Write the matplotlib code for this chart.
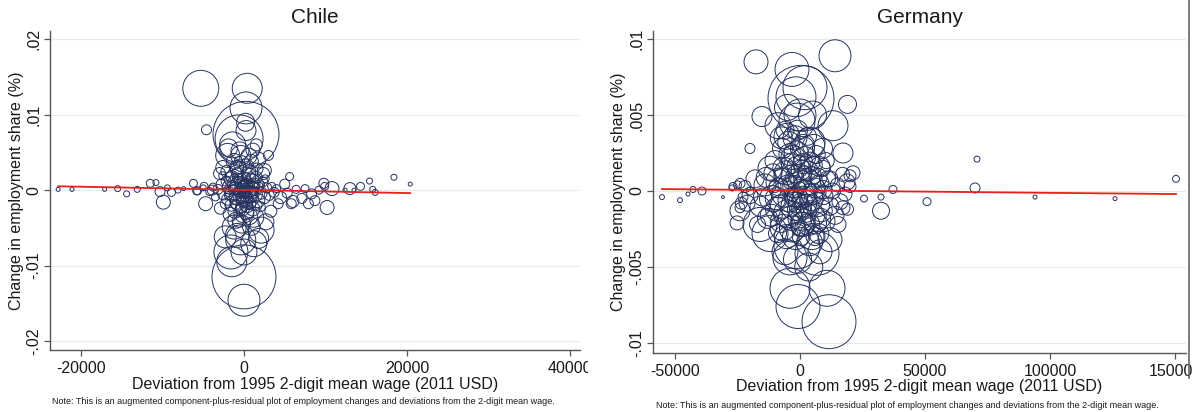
import matplotlib
matplotlib.use("Agg")
import matplotlib.pyplot as plt
import numpy as np
from matplotlib.transforms import Bbox
from matplotlib.lines import Line2D

plt.rcParams['font.family'] = ['Liberation Sans', 'DejaVu Sans']

# ---------------- DATA ----------------
# Chile: deviation from mean wage (USD), change in employment share, relative employment weight
chile_x = [
    # large / upper column
    -5300, 400, 250, 250, -600, -4600, -1400, 250, -2000, -400, 1700, 2500, -2600, -700, 600,
    -1600, 1100, 3000, 1500, -3000,
    # lower column
    0, 1200, -1200, 2100, -400, 1200, -1600, 0, 0, 0, -800, 1800, -1500,
    # core
    -2800, -2500, -2200, -2000, -1800, -1600, -1500, -1300, -1200, -1100, -1000, -900, -800, -700,
    -600, -500, -400, -300, -200, -100, 0, 100, 200, 300, 400, 500, 600, 700, 800, 900, 1000, 1100,
    1200, 1400, 1500, 1700, 1900, 2100, 2300, 2500, 2800, 3100, 3400, 3700, 4000, -3200, -3500,
    -3800, -4200, -300, 300, -900, 700, -600, 1600, -1700, 0, -400, 400, -150, 150, -700, 650,
    -1300, 1300, -50, 50, -250, 250, -2300, 2000, -2600, 2600, 4500, 5300, -4900, -5800, 6000, 3300,
    # core (more)
    -1900, -1400, -1000, -600, -350, -100, 150, 350, 550, 850, 1050, 1350, 1600, -2100, -1200, 900,
    -500, 600, -1900, 200, -300, -1000, 900, -2300, 2700, -200, 400, -800, 1800, -1800, 2400, -2900,
    # left strip
    -22800, -21100, -17100, -15500, -14400, -13100, -11500, -10800, -10300, -9900, -9400, -8900,
    -8100, -7400, -6200, -5700, -5000, -4700, -3900,
    # right strip
    5600, 5000, 6400, 7500, 8300, 8700, 9800, 9900, 10800, 10200, 9200, 13000, 14300, 15400, 15800,
    16100, 13500, 18400, 20400, 12400, 7100, 4200, 5800, 7900,
]
chile_y = [
    0.0135, 0.0135, 0.0109, 0.0074, 0.0068, 0.0080, 0.0060, 0.0079, 0.0046, 0.0046, 0.0040, 0.0026,
    0.0030, 0.0028, 0.0024, 0.0015, 0.0053, 0.0046, 0.0060, 0.0022,
    -0.0030, -0.0036, -0.0049, -0.0053, -0.0066, -0.0071, -0.0082, -0.0082, -0.0115, -0.0146,
    -0.0060, -0.0064, -0.0095,
    0.0008, -0.0005, 0.0012, -0.0012, 0.0004, -0.0020, 0.0018, -0.0004, 0.0009, -0.0028, 0.0003,
    -0.0010, 0.0022, -0.0016, 0.0006, -0.0003, 0.0013, -0.0022, 0.0001, -0.0008, 0.0016, -0.0013,
    0.0005, -0.0030, 0.0010, -0.0005, 0.0020, -0.0018, 0.0002, -0.0009, 0.0012, -0.0025, 0.0004,
    -0.0006, 0.0017, -0.0014, 0.0007, -0.0004, 0.0011, -0.0010, 0.0003, -0.0007, 0.0005, -0.0003,
    0.0002, 0.0001, -0.0009, 0.0004, -0.0002, 0.0035, 0.0032, 0.0030, -0.0035, -0.0040, 0.0028,
    -0.0032, -0.0002, 0.0002, -0.0001, 0.0007, -0.0006, -0.0004, 0.0004, 0.0002, -0.0002, -0.0014,
    0.0009, -0.0005, 0.0003, -0.0018, -0.0022, 0.0019, 0.0015, -0.0010, -0.0004, 0.0005, -0.0001,
    -0.0015, -0.0028,
    -0.0007, 0.0006, -0.0019, 0.0011, -0.0011, 0.0004, -0.0016, 0.0007, -0.0010, 0.0016, -0.0003,
    0.0009, -0.0020, 0.0025, 0.0038, 0.0038, 0.0052, 0.0045, 0.0056, 0.0090, -0.0045, -0.0040,
    -0.0048, -0.0062, -0.0042, -0.0025, -0.0022, 0.0016, 0.0004, -0.0002, 0.0022, -0.0024,
    0.0001, 0.0001, 0.0001, 0.0002, -0.0005, 0.0001, 0.0009, 0.0010, -0.0002, -0.0016, 0.0003,
    -0.0003, 0.0000, 0.0002, 0.0009, -0.0001, 0.0003, -0.0018, 0.0000,
    0.0018, 0.0008, 0.0001, 0.0002, -0.0005, -0.0014, 0.0009, 0.0005, 0.0002, -0.0023, 0.0000,
    0.0002, 0.0005, 0.0012, 0.0001, -0.0003, 0.0000, 0.0017, 0.0008, 0.0000, -0.0011, -0.0018,
    -0.0018, -0.0018,
]
chile_w = [
    324, 225, 256, 1089, 576, 25, 169, 100, 144, 100, 64, 49, 49, 64, 49, 49, 49, 25, 36, 36,
    100, 100, 144, 169, 225, 169, 289, 169, 1024, 256, 144, 100, 225,
    25, 36, 25, 36, 49, 36, 36, 64, 49, 49, 36, 49, 36, 64, 81, 36, 49, 36, 64, 49, 36, 64, 49, 49,
    36, 81, 49, 36, 64, 36, 49, 49, 36, 49, 36, 49, 25, 36, 25, 36, 25, 25, 16, 25, 16, 25, 16, 16,
    16, 64, 49, 49, 64, 49, 36, 49, 25, 25, 25, 16, 16, 16, 16, 16, 16, 25, 25, 9, 9, 25, 25, 16, 16,
    36, 25, 16, 16, 36, 36,
    16, 25, 25, 25, 36, 36, 25, 36, 25, 25, 36, 25, 25, 36, 64, 49, 81, 64, 81, 81, 81, 64, 81, 121,
    64, 49, 36, 25, 25, 25, 36, 36,
    4, 4, 4, 9, 9, 9, 16, 9, 25, 49, 9, 16, 9, 4, 16, 16, 9, 49, 25,
    16, 25, 16, 16, 25, 25, 25, 16, 49, 49, 16, 36, 16, 9, 9, 9, 4, 9, 4, 4, 25, 25, 25, 25,
]
chile_fit_intercept = 0.00003
chile_fit_slope = -2.1e-8

# Germany
germany_x = [
    # upper
    -17600, 14000, -3200, 2000, 400, -1600, -1200, 19000, -15200, 13200, -8800, -5200, 4000,
    -20000, 17200, -2800, 1200, 8000, 21200, -10800, -7200, 18800, 12000, -24000, -26800,
    # lower
    -4000, 10800, -800, 11600, 6800, -1200, -12000, -16000, 12000, -4000, 4800, -6800, 1200,
    -24000, -21200, 15200, 17200, 20000, -25200,
    # core
    -20000, -18000, -16000, -14000, -13000, -12000, -11000, -10000, -9000, -8000, -7500, -7000,
    -6000, -5500, -5000, -4500, -4000, -3500, -3000, -2500, -2000, -1500, -1000, -500, 0, 500,
    1000, 1500, 2000, 2500, 3000, 3500, 4000, 4500, 5000, 5500, 6000, 6500, 7000, 7500, 8000, 8500,
    9000, 9500, 10000, 11000, 12000, 13000, 14000, 15000, 16000, 17000, 18000, 19000, -22000,
    -23500, -17000, -1000, 3000, -6000, -3000, 0, 2500, -1500, 1500, 4000, -4000, 0, -2000, 2000,
    -500, 500, 6000, -9000, -10000, 8000, 10500, 20000,
    # core (more)
    -9500, -8500, -7000, -6500, -5500, -4800, -3800, -3200, -2200, -1800, -800, -200, 300, 800,
    1300, 1800, 2800, 3300, 3800, 4800, 5300, 6200, 7200, 8200, 9200, -11500, -13500, -15000,
    -2000, 1000, 5500, -4000, -7500, 9000, -1000, 3500, -6000, 8000, 0, -5000, 5000,
    # left outliers
    -55200, -48000, -44800, -42800, -39200, -30800, -27200, -25000, -22800, -24000, -20000,
    # right outliers
    25600, 32400, 32400, 37200, 50800, 70000, 70800, 94000, 126000, 150400,
]
germany_y = [
    0.0085, 0.0089, 0.0080, 0.0068, 0.0061, 0.0062, 0.0046, 0.0057, 0.0049, 0.0043, 0.0043, 0.0036,
    0.0032, 0.0028, 0.0025, 0.0022, 0.0018, 0.0016, 0.0012, 0.0012, 0.0010, 0.0006, 0.0008, 0.0005,
    0.0003,
    -0.0064, -0.0064, -0.0076, -0.0086, -0.0041, -0.0036, -0.0028, -0.0022, -0.0032, -0.0044,
    -0.0030, -0.0024, -0.0022, -0.0013, -0.0008, -0.0022, -0.0011, 0.0003, -0.0021,
    -0.0003, 0.0008, -0.0010, 0.0004, -0.0018, 0.0015, -0.0005, 0.0020, -0.0012, 0.0006, -0.0020,
    0.0028, -0.0002, 0.0012, -0.0015, 0.0032, -0.0006, 0.0018, -0.0025, 0.0003, -0.0010, 0.0025,
    -0.0004, 0.0009, -0.0018, 0.0014, -0.0008, 0.0030, -0.0001, -0.0014, 0.0006, -0.0022, 0.0019,
    -0.0005, 0.0010, -0.0016, 0.0002, 0.0024, -0.0009, -0.0028, 0.0005, -0.0013, 0.0015, -0.0003,
    -0.0020, 0.0008, -0.0010, 0.0000, -0.0016, 0.0004, -0.0007, 0.0011, -0.0002, -0.0012, 0.0003,
    -0.0008, -0.0022, 0.0040, 0.0036, 0.0040, -0.0003, 0.0002, -0.0006, -0.0011, 0.0004, -0.0011,
    0.0006, -0.0007, 0.0010, 0.0012, -0.0025, -0.0030, -0.0030, -0.0028, 0.0003, -0.0001, 0.0020,
    0.0010,
    -0.0005, 0.0002, -0.0010, 0.0015, -0.0030, 0.0004, -0.0018, 0.0010, -0.0004, -0.0030, 0.0016,
    -0.0012, 0.0007, -0.0022, -0.0004, 0.0022, -0.0010, 0.0013, -0.0034, -0.0002, 0.0017, -0.0021,
    0.0009, -0.0018, 0.0001, -0.0016, 0.0009, -0.0004, 0.0035, 0.0028, 0.0030, 0.0024, 0.0035,
    0.0028, -0.0045, -0.0050, -0.0040, -0.0040, 0.0050, 0.0055, 0.0050,
    -0.0004, -0.0006, -0.0002, 0.0001, 0.0000, -0.0004, 0.0002, 0.0004, -0.0004, -0.0011, 0.0000,
    -0.0005, -0.0004, -0.0013, 0.0001, -0.0007, 0.0002, 0.0021, -0.0004, -0.0005, 0.0008,
]
germany_w = [
    144, 256, 289, 484, 1089, 400, 324, 81, 100, 225, 169, 169, 225, 25, 100, 144, 100, 100, 49,
    81, 64, 64, 64, 25, 16,
    400, 324, 484, 729, 484, 529, 324, 289, 144, 289, 169, 169, 144, 100, 64, 64, 49, 36, 49,
    64, 81, 100, 121, 100, 144, 169, 100, 144, 196, 121, 100, 169, 144, 196, 121, 144, 100, 169,
    121, 196, 144, 100, 169, 144, 100, 196, 121, 144, 100, 169, 121, 100, 144, 81, 121, 100, 81,
    144, 100, 81, 121, 64, 81, 100, 64, 81, 64, 81, 49, 64, 49, 49, 36, 36, 36, 64, 100, 81, 81,
    36, 36, 36, 25, 25, 49, 49, 64, 49, 49, 49, 81, 81, 81, 36, 36, 64, 36,
    121, 100, 144, 121, 144, 100, 144, 121, 100, 169, 121, 144, 100, 144, 121, 121, 144, 100, 169,
    121, 81, 121, 81, 100, 81, 121, 100, 81, 144, 144, 121, 121, 121, 100, 196, 196, 169, 144, 256,
    169, 196,
    6, 6, 4, 9, 16, 2, 9, 16, 25, 25, 16,
    12, 9, 72, 16, 16, 25, 9, 4, 4, 12,
]
germany_fit_intercept = 0.00004
germany_fit_slope = -1.6e-9

chile_xticks = [-20000, 0, 20000, 40000]
chile_xticklabels = ['-20000', '0', '20000', '40000']
chile_yticks = [-0.02, -0.01, 0.0, 0.01, 0.02]
chile_yticklabels = ['-.02', '-.01', '0', '.01', '.02']
germany_xticks = [-50000, 0, 50000, 100000, 150000]
germany_xticklabels = ['-50000', '0', '50000', '100000', '150000']
germany_yticks = [-0.01, -0.005, 0.0, 0.005, 0.01]
germany_yticklabels = ['-.01', '-.005', '0', '.005', '.01']

xlabel_text = 'Deviation from 1995 2-digit mean wage (2011 USD)'
ylabel_text = 'Change in employment share (%)'
note_text = ('Note: This is an augmented component-plus-residual plot of employment '
             'changes and deviations from the 2-digit mean wage.')

# ---------------- PLOT ----------------
W, H = 1192, 412
fig = plt.figure(figsize=(W / 100, H / 100), dpi=100)

NAVY = '#26335e'
RED = '#e8201c'
GRID = '#e7ebef'
AXC = '#555555'
TXT = '#1a1a1a'


def px_axes(l, r, t, b):
    return fig.add_axes([l / W, 1 - b / H, (r - l) / W, (b - t) / H])


def panel(ax, x, y, w, b0, b1, xlim, ylim, xt, xtl, yt, ytl, title):
    x = np.asarray(x, float)
    y = np.asarray(y, float)
    w = np.asarray(w, float)
    ax.set_xlim(*xlim)
    ax.set_ylim(*ylim)
    for v in yt:
        ax.axhline(v, color=GRID, lw=0.9, zorder=0)
    ax.scatter(x, y, s=w * 2.07, facecolors='none', edgecolors=NAVY, linewidths=0.7, zorder=2)
    xx = np.array([x.min(), x.max()])
    ax.plot(xx, b0 + b1 * xx, color=RED, lw=1.3, zorder=3)
    for s in ['top', 'right']:
        ax.spines[s].set_visible(False)
    for s in ['left', 'bottom']:
        ax.spines[s].set_color(AXC)
        ax.spines[s].set_linewidth(1.0)
    ax.set_xticks(xt)
    ax.set_xticklabels(xtl)
    ax.set_yticks(yt)
    ax.set_yticklabels(ytl, rotation=90, va='center')
    ax.tick_params(axis='both', direction='out', length=4, width=0.9, color=AXC,
                   labelsize=11.5, labelcolor=TXT)
    ax.tick_params(axis='x', pad=4)
    ax.tick_params(axis='y', pad=2)
    ax.set_title(title, fontsize=15, color=TXT, pad=6)
    ax.set_xlabel(xlabel_text, fontsize=11.5, color=TXT)
    ax.set_ylabel(ylabel_text, fontsize=11.5, color=TXT)
    ax.set_facecolor('white')


# Chile panel
ax1 = px_axes(50, 580, 31, 350)
panel(ax1, chile_x, chile_y, chile_w, chile_fit_intercept, chile_fit_slope,
      (-23800, 41230), (-0.0212, 0.0211), chile_xticks, chile_xticklabels,
      chile_yticks, chile_yticklabels, 'Chile')
ax1.xaxis.set_label_coords(0.5, -34 / 319)
ax1.xaxis.label.set_va('center')
ax1.yaxis.set_label_coords(-26 / 530, 0.5)
clip = Bbox.from_extents(0, 0, 588, H)
for t in ax1.xaxis.get_major_ticks():
    t.label1.set_clip_box(clip)
    t.label1.set_clip_on(True)

# Germany panel
ax2 = px_axes(653, 1186, 31, 353)
panel(ax2, germany_x, germany_y, germany_w, germany_fit_intercept, germany_fit_slope,
      (-58800, 154400), (-0.01066, 0.01053), germany_xticks, germany_xticklabels,
      germany_yticks, germany_yticklabels, 'Germany')
ax2.xaxis.set_label_coords(0.5, -34 / 322)
ax2.xaxis.label.set_va('center')
ax2.yaxis.set_label_coords(-27 / 533, 0.5)

# notes
fig.text(52 / W, 1 - 402 / H, note_text, fontsize=6.5, color=TXT, ha='left', va='center')
fig.text(656 / W, 1 - 406 / H, note_text, fontsize=6.5, color=TXT, ha='left', va='center')

# right border line of the second panel image
fig.add_artist(Line2D([1189 / W, 1189 / W], [1 - 378 / H, 1.0], color='#666666', lw=1.2))

fig.savefig('out.png', dpi=100, facecolor='white')
